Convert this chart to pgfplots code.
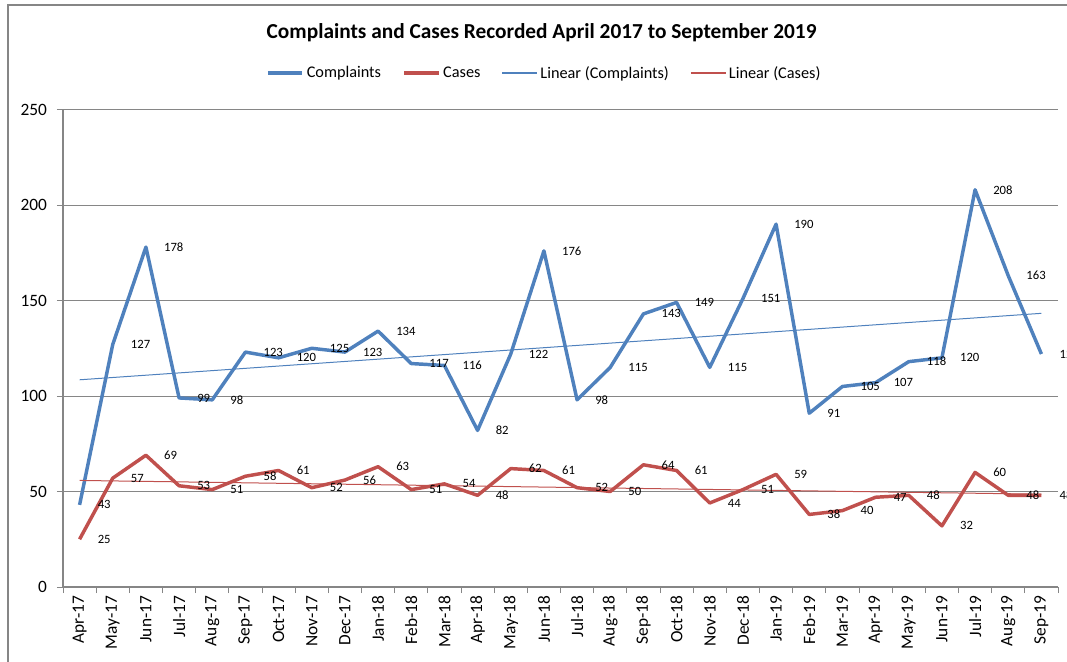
\documentclass[border=0pt]{standalone}
\usepackage{pgfplots}
\pgfplotsset{compat=1.18}
\usepackage{fontspec}
\setmainfont{Carlito}
\definecolor{cblue}{HTML}{4F81BD}
\definecolor{cred}{HTML}{C0504D}
\definecolor{gridc}{HTML}{868686}
\begin{document}
\begin{tikzpicture}
\useasboundingbox (0,0) rectangle ({1067*0.75pt},{-661*0.75pt});
\draw[gridc, line width=1.1pt] ({8*0.75pt},{-5*0.75pt}) rectangle ({1090*0.75pt},{-690*0.75pt});
\begin{axis}[
  at={({63*0.75pt},{-587*0.75pt})}, anchor=south west,
  scale only axis, width=746.25pt, height=358.1pt,
  xmin=-0.5, xmax=29.5, ymin=0, ymax=250,
  axis x line*=bottom, axis y line*=left,
  axis line style={-, gridc, line width=0.9pt},
  ytick={0,50,100,150,200,250},
  ymajorgrids, grid style={gridc, line width=0.75pt},
  tick align=outside,
  major tick length=4.5pt,
  ytick style={gridc, line width=0.75pt},
  xtick={0,...,29},
  minor xtick={-0.5,0.5,...,29.5},
  major x tick style={draw=none},
  minor x tick style={gridc, line width=0.75pt},
  minor tick length=4.5pt,
  xticklabels={Apr-17,May-17,Jun-17,Jul-17,Aug-17,Sep-17,Oct-17,Nov-17,Dec-17,Jan-18,Feb-18,Mar-18,Apr-18,May-18,Jun-18,Jul-18,Aug-18,Sep-18,Oct-18,Nov-18,Dec-18,Jan-19,Feb-19,Mar-19,Apr-19,May-19,Jun-19,Jul-19,Aug-19,Sep-19},
  xticklabel style={rotate=90, anchor=east, font=\fontsize{13}{15}\selectfont, inner sep=2pt},
  yticklabel style={font=\fontsize{13}{15}\selectfont, xshift=-4pt},
  /pgf/number format/assume math mode=true,
  title={\bfseries Complaints and Cases Recorded April 2017 to September 2019},
  title style={at={(0.481,1.137)}, yshift=-8pt, font=\fontsize{16}{19}\selectfont},
  legend style={at={(0.484,1.0764)}, anchor=center, draw=none, fill=none,
    font=\fontsize{12.2}{14}\selectfont, legend columns=4,
    /tikz/every even column/.append style={column sep=14pt}},
  legend image code/.code={\draw[#1] (0pt,0pt) -- (26pt,0pt);},
  clip=false,
  every node near coord/.append style={anchor=west, xshift=9pt, font=\fontsize{9.5}{11}\selectfont, text=black},
]
\addplot[cblue, line width=2.6pt, line join=round, nodes near coords] coordinates {
(0,43)(1,127)(2,178)(3,99)(4,98)(5,123)(6,120)(7,125)(8,123)(9,134)
(10,117)(11,116)(12,82)(13,122)(14,176)(15,98)(16,115)(17,143)(18,149)(19,115)
(20,151)(21,190)(22,91)(23,105)(24,107)(25,118)(26,120)(27,208)(28,163)(29,122)};
\addlegendentry{Complaints}
\addplot[cred, line width=2.6pt, line join=round, nodes near coords] coordinates {
(0,25)(1,57)(2,69)(3,53)(4,51)(5,58)(6,61)(7,52)(8,56)(9,63)
(10,51)(11,54)(12,48)(13,62)(14,61)(15,52)(16,50)(17,64)(18,61)(19,44)
(20,51)(21,59)(22,38)(23,40)(24,47)(25,48)(26,32)(27,60)(28,48)(29,48)};
\addlegendentry{Cases}
\addlegendimage{draw=cblue, line width=1pt}
\addlegendentry{Linear (Complaints)}
\addlegendimage{draw=cred, line width=1pt}
\addlegendentry{Linear (Cases)}
\addplot[cblue, line width=0.75pt, forget plot] coordinates {(0,108.5)(29,143.3)};
\addplot[cred, line width=0.75pt, forget plot] coordinates {(0,55.8)(29,48.6)};
\end{axis}
\end{tikzpicture}
\end{document}
